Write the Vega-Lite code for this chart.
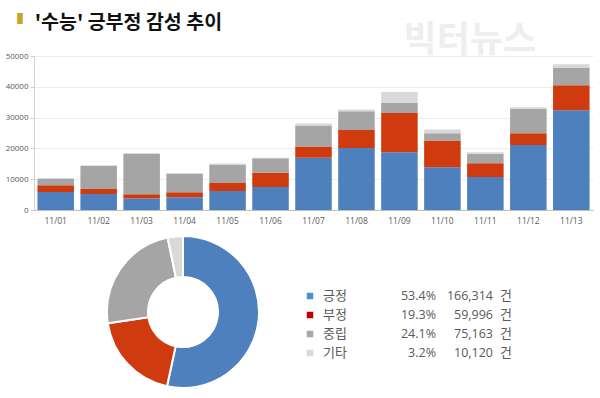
{
  "$schema": "https://vega.github.io/schema/vega-lite/v6.json",
  "padding": {"left": 5, "top": 12, "right": 5, "bottom": 5},
  "background": "white",
  "config": {
    "view": {"stroke": null},
    "font": "Noto Sans CJK KR",
    "axis": {"labelFont": "Open Sans", "labelColor": "#595959", "labelFontSize": 8}
  },
  "title": {
    "text": "\u200b\u2002\u2009\u2009'수능' 긍부정 감성 추이",
    "subtitle": "▌",
    "anchor": "start",
    "dx": 12,
    "fontSize": 19.5,
    "fontWeight": "bold",
    "color": "#111111",
    "subtitleColor": "#C9A22A",
    "subtitleFontSize": 11,
    "subtitlePadding": -19,
    "offset": -10
  },
  "datasets": {
    "daily": [
      {"date": "11/01", "cat": "긍정", "value": 5840}, {"date": "11/01", "cat": "부정", "value": 2180}, {"date": "11/01", "cat": "중립", "value": 2080}, {"date": "11/01", "cat": "기타", "value": 300},
      {"date": "11/02", "cat": "긍정", "value": 5200}, {"date": "11/02", "cat": "부정", "value": 1620}, {"date": "11/02", "cat": "중립", "value": 7480}, {"date": "11/02", "cat": "기타", "value": 200},
      {"date": "11/03", "cat": "긍정", "value": 3700}, {"date": "11/03", "cat": "부정", "value": 1400}, {"date": "11/03", "cat": "중립", "value": 13200}, {"date": "11/03", "cat": "기타", "value": 200},
      {"date": "11/04", "cat": "긍정", "value": 4120}, {"date": "11/04", "cat": "부정", "value": 1630}, {"date": "11/04", "cat": "중립", "value": 6050}, {"date": "11/04", "cat": "기타", "value": 200},
      {"date": "11/05", "cat": "긍정", "value": 6170}, {"date": "11/05", "cat": "부정", "value": 2600}, {"date": "11/05", "cat": "중립", "value": 6030}, {"date": "11/05", "cat": "기타", "value": 260},
      {"date": "11/06", "cat": "긍정", "value": 7470}, {"date": "11/06", "cat": "부정", "value": 4660}, {"date": "11/06", "cat": "중립", "value": 4670}, {"date": "11/06", "cat": "기타", "value": 200},
      {"date": "11/07", "cat": "긍정", "value": 17000}, {"date": "11/07", "cat": "부정", "value": 3580}, {"date": "11/07", "cat": "중립", "value": 6820}, {"date": "11/07", "cat": "기타", "value": 650},
      {"date": "11/08", "cat": "긍정", "value": 20130}, {"date": "11/08", "cat": "부정", "value": 5870}, {"date": "11/08", "cat": "중립", "value": 6100}, {"date": "11/08", "cat": "기타", "value": 500},
      {"date": "11/09", "cat": "긍정", "value": 18730}, {"date": "11/09", "cat": "부정", "value": 12770}, {"date": "11/09", "cat": "중립", "value": 3240}, {"date": "11/09", "cat": "기타", "value": 3600},
      {"date": "11/10", "cat": "긍정", "value": 13860}, {"date": "11/10", "cat": "부정", "value": 8670}, {"date": "11/10", "cat": "중립", "value": 2370}, {"date": "11/10", "cat": "기타", "value": 1200},
      {"date": "11/11", "cat": "긍정", "value": 10710}, {"date": "11/11", "cat": "부정", "value": 4450}, {"date": "11/11", "cat": "중립", "value": 3140}, {"date": "11/11", "cat": "기타", "value": 430},
      {"date": "11/12", "cat": "긍정", "value": 21100}, {"date": "11/12", "cat": "부정", "value": 3800}, {"date": "11/12", "cat": "중립", "value": 8000}, {"date": "11/12", "cat": "기타", "value": 440},
      {"date": "11/13", "cat": "긍정", "value": 32370}, {"date": "11/13", "cat": "부정", "value": 8130}, {"date": "11/13", "cat": "중립", "value": 5600}, {"date": "11/13", "cat": "기타", "value": 1250}
    ],
    "total": [
      {"cat": "긍정", "value": 166314, "pct": 0.534},
      {"cat": "부정", "value": 59996, "pct": 0.193},
      {"cat": "중립", "value": 75163, "pct": 0.241},
      {"cat": "기타", "value": 10120, "pct": 0.032}
    ]
  },
  "vconcat": [
    {
      "title": {"text": "빅터뉴스", "anchor": "end", "dx": -57, "fontSize": 36, "fontWeight": "bold", "color": "#EEEEEE", "offset": -8},
      "width": 559,
      "height": 154,
      "data": {"name": "daily"},
      "transform": [{"calculate": "indexof(['긍정','부정','중립','기타'], datum.cat)", "as": "catOrder"}],
      "mark": {"type": "bar"},
      "encoding": {
        "x": {"field": "date", "type": "ordinal", "scale": {"paddingInner": 0.15, "paddingOuter": 0.08},
              "axis": {"title": null, "labelAngle": 0, "ticks": false, "domainColor": "#BFBFBF", "labelPadding": 6, "labelFontSize": 8.5}},
        "y": {"field": "value", "type": "quantitative", "aggregate": "sum", "scale": {"domain": [0, 50000]},
              "axis": {"title": null, "values": [0, 10000, 20000, 30000, 40000, 50000], "format": "d", "gridColor": "#EDEDED", "domainColor": "#D0D0D0", "tickColor": "#D0D0D0", "tickSize": 4, "labelPadding": 2}},
        "order": {"field": "catOrder", "type": "quantitative", "sort": "ascending"},
        "color": {"field": "cat", "type": "nominal", "sort": ["긍정", "부정", "중립", "기타"],
                  "scale": {"domain": ["긍정", "부정", "중립", "기타"], "range": ["#4E80BE", "#CF3A0E", "#A5A5A5", "#D9D9D9"]}, "legend": null}
      }
    },
    {
      "width": 298,
      "height": 150,
      "data": {"name": "total"},
      "transform": [{"calculate": "indexof(['긍정','부정','중립','기타'], datum.cat)", "as": "catOrder"}],
      "layer": [
        {
          "mark": {"type": "arc", "outerRadius": 76, "innerRadius": 35, "stroke": "white", "strokeWidth": 2},
          "encoding": {
            "theta": {"field": "value", "type": "quantitative", "stack": true},
            "order": {"field": "catOrder", "type": "quantitative", "sort": "ascending"},
            "color": {"field": "cat", "type": "nominal", "sort": ["긍정", "부정", "중립", "기타"],
                      "scale": {"domain": ["긍정", "부정", "중립", "기타"], "range": ["#4E80BE", "#CF3A0E", "#A5A5A5", "#D9D9D9"]}, "legend": null}
          }
        },
        {
          "encoding": {
            "y": {"field": "cat", "type": "nominal", "sort": ["긍정", "부정", "중립", "기타"],
                  "scale": {"type": "point", "padding": 0, "range": [59, 116]}, "axis": null}
          },
          "layer": [
            {"mark": {"type": "point", "shape": "square", "filled": true, "size": 42, "opacity": 1},
             "encoding": {"x": {"value": 276},
                          "fill": {"field": "cat", "type": "nominal", "scale": {"domain": ["긍정", "부정", "중립", "기타"], "range": ["#4E8ED6", "#C00000", "#A6A6A6", "#D9D9D9"]}, "legend": null}}},
            {"mark": {"type": "text", "align": "left", "fontSize": 13, "color": "#595959", "baseline": "middle"},
             "encoding": {"x": {"value": 289}, "text": {"field": "cat"}}},
            {"mark": {"type": "text", "align": "right", "fontSize": 12.5, "color": "#595959", "baseline": "middle", "font": "Open Sans"},
             "encoding": {"x": {"value": 402}, "text": {"field": "pct", "type": "quantitative", "format": ".1%"}}},
            {"mark": {"type": "text", "align": "right", "fontSize": 12.5, "color": "#595959", "baseline": "middle", "font": "Open Sans"},
             "encoding": {"x": {"value": 459}, "text": {"field": "value", "type": "quantitative", "format": ","}}},
            {"mark": {"type": "text", "align": "left", "fontSize": 13, "color": "#595959", "baseline": "middle", "text": "건"},
             "encoding": {"x": {"value": 466}}}
          ]
        }
      ],
      "resolve": {"scale": {"color": "independent"}}
    }
  ],
  "spacing": 7,
  "resolve": {"scale": {"color": "independent"}}
}
